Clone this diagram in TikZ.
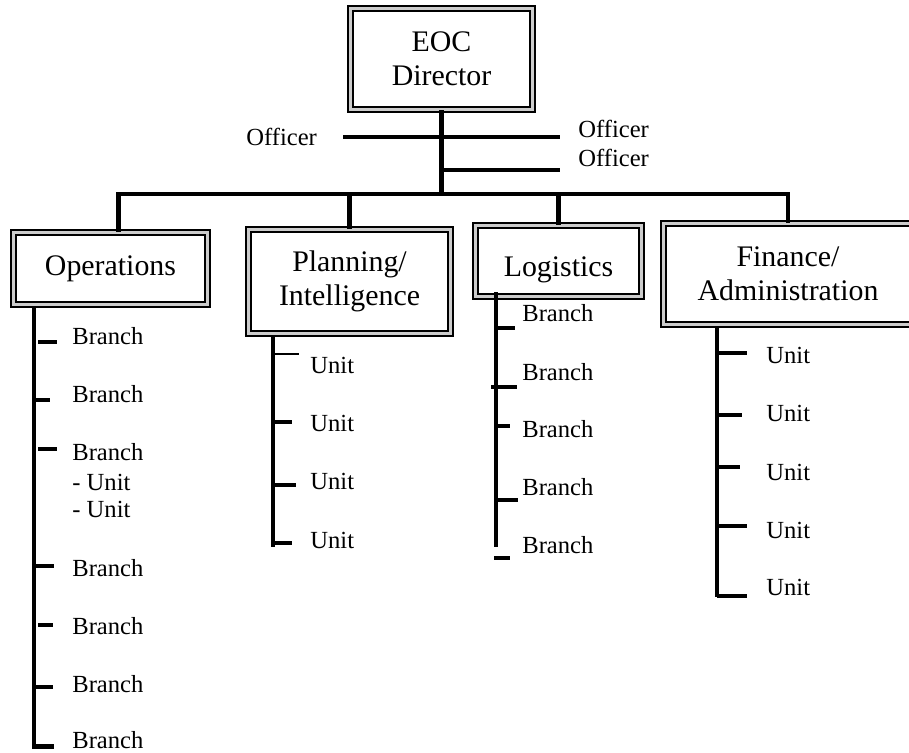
\documentclass[tikz,border=0pt]{standalone}
\usepackage{fontspec}
\setmainfont{Liberation Serif}
\usetikzlibrary{positioning}

\begin{document}
\begin{tikzpicture}[x=0.02cm, y=-0.02cm,
    box/.style = {draw, double=black!20, line width=1.1pt, double distance=1.7pt,
                  align=center, inner sep=0pt, font=\fontsize{17}{19.5}\selectfont},
    lbl/.style = {anchor=west, inner sep=0pt, font=\fontsize{14}{16}\selectfont},
    link/.style = {line width=2.8pt},
    tick/.style = {line width=2pt}]
    \useasboundingbox (0,0) rectangle (909,753);

    % boxes
    \node[box, minimum width=3.64cm, minimum height=2.02cm] (eoc)  at (441.5,59)  {EOC\\Director};
    \node[box, minimum width=3.88cm, minimum height=1.44cm] (ops)  at (110.5,268.5) {Operations};
    \node[box, minimum width=4.04cm, minimum height=2.08cm] (plan) at (349.5,281.5) {Planning/\\Intelligence};
    \node[box, minimum width=3.32cm, minimum height=1.42cm] (log)  at (558.5,261)  {\raisebox{-8.6pt}[0pt][0pt]{Logistics}};
    \node[box, minimum width=4.98cm, minimum height=2.02cm] (fin)  at (788,274)    {Finance/\\Administration};

    % officers
    \node[lbl] (off1) at (246,137) {Officer};
    \node[lbl] (off2) at (578,129) {Officer};
    \node[lbl] (off3) at (578,158) {Officer};
    \coordinate (bar) at (441.5,194);
    \coordinate (o1) at (343,137);
    \coordinate (o2) at (560,137);
    \coordinate (o3) at (560,170);
    \draw[link] (eoc.south) -- (bar);
    \draw[link] (o1) -- (o2);
    \draw[link] (eoc.south |- o3) -- (o3);

    % sections
    \draw[link] ([xshift=4.5]ops.north) |- (bar) -| (fin.north);
    \draw[link] (plan.north) -- (plan.north |- bar);
    \draw[link] (log.north) -- (log.north |- bar);

    % operations
    \draw[link] (34,308) -- (34,747) -- (54,747);
    \foreach \ly/\ty/\x/\len [count=\i] in {336/342/38/57, 394/400/34/50, 452/449/38/57,
            568/566/34/54, 626/625/38/53, 684/687/34/53, 740/746/34/54} {
        \node[lbl] (ob\i) at (72,\ly) {Branch};
        \draw[tick, line width=2.2pt] (\x,\ty) -- (\len,\ty);
    }
    \node[lbl] (ou1) at (72,482) {- Unit};
    \node[lbl] (ou2) at (72,509) {- Unit};

    % planning
    \draw[link] (273,335) -- (273,547);
    \foreach \ly/\ty/\len/\w [count=\i] in {365/354/299/0.6pt, 423/422/292/2.6pt,
            481/485/296/2pt, 540/543/292/2pt} {
        \node[lbl] (pu\i) at (310,\ly) {Unit};
        \draw[tick, line width=\w] (273,\ty) -- (\len,\ty);
    }

    % logistics
    \draw[link] (496,292) -- (496,547);
    \foreach \ly/\ty/\x/\len [count=\i] in {313/328/496/515, 372/387/491/517,
            429/426/496/510, 487/500/496/518, 545/558/494/510} {
        \node[lbl] (lb\i) at (522,\ly) {Branch};
        \draw[tick, line width=2.2pt] (\x,\ty) -- (\len,\ty);
    }

    % finance
    \draw[link] (717,327) -- (717,597);
    \foreach \ly/\ty/\len [count=\i] in {355/353/747, 413/415/742, 472/467/740,
            530/526/747, 587/596/747} {
        \node[lbl] (fu\i) at (766,\ly) {Unit};
        \draw[tick, line width=2.4pt] (717,\ty) -- (\len,\ty);
    }
\end{tikzpicture}
\end{document}
